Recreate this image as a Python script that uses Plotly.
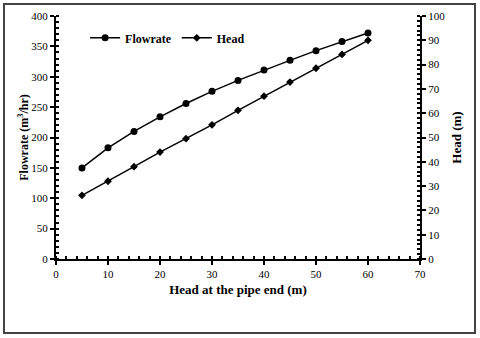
import plotly.graph_objects as go

head_end = [5, 10, 15, 20, 25, 30, 35, 40, 45, 50, 55, 60]
flowrate = [150, 183, 210, 234, 256, 276, 294, 311, 327, 343, 358, 372]
head = [26.2, 32.0, 38.0, 44.0, 49.5, 55.2, 61.2, 67.0, 72.8, 78.5, 84.2, 90.0]

FONT = "Liberation Serif"

fig = go.Figure()
fig.add_trace(go.Scatter(x=head_end, y=flowrate, name="<b>Flowrate</b>", mode="lines+markers",
                         line=dict(color="black", width=1.5),
                         marker=dict(symbol="circle", size=7, color="black")))
fig.add_trace(go.Scatter(x=head_end, y=head, name="<b>Head</b>", mode="lines+markers", yaxis="y2",
                         line=dict(color="black", width=1.5),
                         marker=dict(symbol="diamond", size=6, color="black")))

axis_common = dict(showgrid=False, zeroline=False, showline=True, linecolor="black", linewidth=2,
                   ticks="outside", ticklen=4, tickwidth=1.5, tickcolor="black", automargin=False,
                   tickfont=dict(family=FONT, size=11, color="black"))

fig.update_layout(
    width=480, height=338,
    margin=dict(l=56, r=60, t=16, b=79),
    paper_bgcolor="white", plot_bgcolor="white",
    font=dict(family=FONT, color="black"),
    showlegend=True,
    legend=dict(orientation="h", x=0.08, y=0.91, xanchor="left", yanchor="middle",
                font=dict(family=FONT, size=12, color="black"), bgcolor="rgba(0,0,0,0)",
                itemwidth=30, tracegroupgap=0),
    xaxis=dict(range=[0, 70], dtick=10, **axis_common,
               minor=dict(dtick=2, ticks="inside", ticklen=3, tickcolor="black"),
               title=dict(text="<b>Head at the pipe end (m)</b>",
                          font=dict(family=FONT, size=13, color="black"), standoff=6)),
    yaxis=dict(range=[0, 400], dtick=50, **axis_common,
               minor=dict(dtick=10, ticks="inside", ticklen=3, tickcolor="black"),
               title=dict(text="<b>Flowrate (m<sup>3</sup>/hr)</b>",
                          font=dict(family=FONT, size=12, color="black"), standoff=0)),
    yaxis2=dict(range=[0, 100], dtick=10, overlaying="y", side="right", **axis_common,
                minor=dict(dtick=2, ticks="inside", ticklen=3, tickcolor="black"),
                title=dict(text="<b>Head (m)</b>",
                           font=dict(family=FONT, size=13, color="black"), standoff=8)),
)

# outer frame around the whole picture (paper coordinates relative to plot area)
fig.add_shape(type="rect", xref="paper", yref="paper",
              x0=(4 - 56) / 364, x1=(475 - 56) / 364,
              y0=(259 - 333) / 243, y1=(259 - 4) / 243,
              line=dict(color="#444444", width=2), fillcolor="rgba(0,0,0,0)", layer="above")

fig.write_html("out.html", config={"displayModeBar": False},
               post_script="document.body.style.margin='0';document.body.style.padding='0';")
